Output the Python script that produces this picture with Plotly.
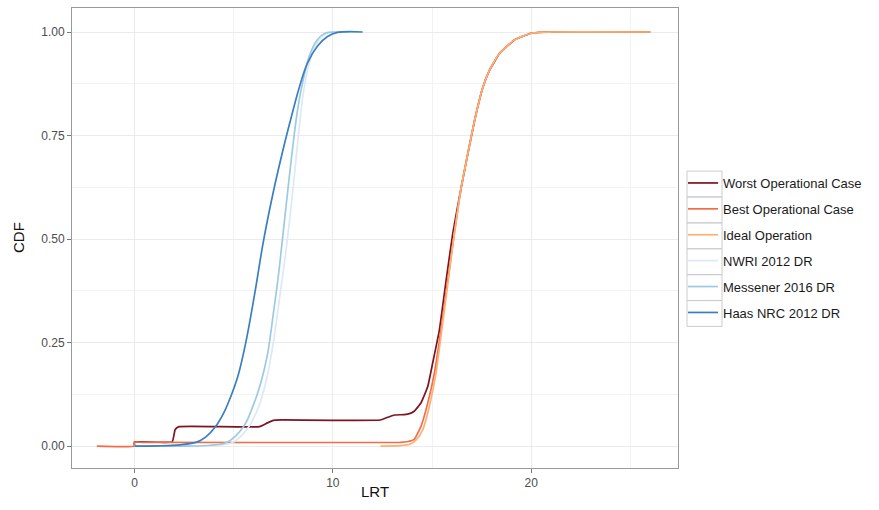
import plotly.graph_objects as go

# ---- data ----
worst_x = [0.0, 0.0, 1.9, 2.05, 2.25, 6.3, 6.7, 7.0, 7.4, 12.4, 12.8, 13.1, 13.6, 13.9, 14.1, 14.44, 14.78, 15.03, 15.37, 15.71, 16.05, 16.46, 16.8, 17.14, 17.56, 17.9, 18.4, 19.16, 20.0, 21.0, 26.0]
worst_y = [0.0, 0.010, 0.010, 0.040, 0.047, 0.047, 0.056, 0.062, 0.063, 0.063, 0.070, 0.075, 0.076, 0.079, 0.084, 0.104, 0.143, 0.200, 0.280, 0.400, 0.515, 0.622, 0.705, 0.785, 0.866, 0.908, 0.948, 0.981, 0.997, 1.0, 1.0]

best_x = [-1.9, 0.0, 0.0, 0.4, 13.4, 13.8, 14.1, 14.44, 14.78, 15.12, 15.45, 15.79, 16.13, 16.46, 16.8, 17.14, 17.56, 17.9, 18.4, 19.16, 20.0, 21.0, 26.0]
best_y = [0.0, 0.0, 0.009, 0.009, 0.009, 0.011, 0.016, 0.047, 0.103, 0.176, 0.280, 0.400, 0.515, 0.622, 0.705, 0.785, 0.866, 0.908, 0.948, 0.981, 0.997, 1.0, 1.0]

ideal_x = [12.4, 13.4, 13.9, 14.19, 14.53, 14.86, 15.2, 15.49, 15.82, 16.13, 16.46, 16.8, 17.14, 17.56, 17.9, 18.4, 19.16, 20.0, 21.0, 26.0]
ideal_y = [0.0, 0.001, 0.005, 0.0145, 0.039, 0.095, 0.176, 0.280, 0.400, 0.515, 0.622, 0.705, 0.785, 0.866, 0.908, 0.948, 0.981, 0.997, 1.0, 1.0]

nwri_x = [0.0, 3.0, 4.2, 5.0, 5.77, 6.3, 6.65, 7.0, 7.35, 7.71, 8.0, 8.22, 8.55, 8.9, 9.3, 9.7, 10.2, 10.6]
nwri_y = [0.0, 0.0, 0.002, 0.010, 0.047, 0.100, 0.160, 0.250, 0.370, 0.500, 0.625, 0.730, 0.865, 0.940, 0.980, 0.997, 1.0, 1.0]

messener_x = [0.0, 2.8, 3.8, 4.7, 5.5, 6.0, 6.35, 6.7, 7.0, 7.25, 7.46, 7.7, 7.96, 8.2, 8.42, 8.8, 9.2, 9.6, 10.2, 10.8]
messener_y = [0.0, 0.0, 0.002, 0.010, 0.047, 0.100, 0.150, 0.220, 0.320, 0.410, 0.500, 0.605, 0.715, 0.805, 0.865, 0.940, 0.980, 0.997, 1.0, 1.0]

haas_x = [0.0, 1.2, 2.3, 3.17, 3.6, 4.09, 4.5, 4.8, 5.22, 5.61, 6.05, 6.52, 7.05, 7.51, 7.88, 8.3, 8.72, 9.23, 9.73, 10.24, 11.5]
haas_y = [0.0, 0.0005, 0.003, 0.010, 0.022, 0.047, 0.080, 0.113, 0.170, 0.250, 0.365, 0.500, 0.625, 0.720, 0.790, 0.865, 0.925, 0.966, 0.989, 0.999, 1.0]

series_names = ["Worst Operational Case", "Best Operational Case", "Ideal Operation",
                "NWRI 2012 DR", "Messener 2016 DR", "Haas NRC 2012 DR"]
series_x = [worst_x, best_x, ideal_x, nwri_x, messener_x, haas_x]
series_y = [worst_y, best_y, ideal_y, nwri_y, messener_y, haas_y]
series_colors = ["#7d1421", "#f26d45", "#fdb074", "#dce9f6", "#9ecae1", "#3a7fc1"]
series_smooth = [0.35, 0.35, 0.6, 1.0, 1.0, 1.0]

x_ticks = [0, 10, 20]
y_ticks = [0.0, 0.25, 0.5, 0.75, 1.0]
y_tick_labels = ["0.00", "0.25", "0.50", "0.75", "1.00"]

FONT = "Liberation Sans, Arial, sans-serif"

# ---- figure ----
fig = go.Figure()
for name, xs, ys, col, sm in zip(series_names, series_x, series_y, series_colors, series_smooth):
    fig.add_trace(go.Scatter(
        x=xs, y=ys, mode="lines", name=name, legendgroup=name,
        line=dict(color=col, width=1.7, shape="spline", smoothing=sm),
    ))

W, H = 879, 510
L, R, T, B = 72, 201, 8, 42
pw, ph = W - L - R, H - T - B

def px_to_paper_x(px):
    return (px - L) / pw

def px_to_paper_y(py):
    return (H - B - py) / ph

# legend key boxes (ggplot style)
key_centers = [184 + 25.9 * i for i in range(6)]
shapes = []
for c in key_centers:
    shapes.append(dict(type="rect", xref="paper", yref="paper",
                       x0=px_to_paper_x(687), x1=px_to_paper_x(722),
                       y0=px_to_paper_y(c + 12.9), y1=px_to_paper_y(c - 12.9),
                       line=dict(color="#cccccc", width=1), fillcolor="rgba(0,0,0,0)",
                       layer="below"))

annotations = [
    dict(text="LRT", xref="paper", yref="paper", x=0.5, y=px_to_paper_y(492),
         xanchor="center", yanchor="middle", showarrow=False,
         font=dict(family=FONT, size=15, color="#111111")),
    dict(text="CDF", xref="paper", yref="paper", x=px_to_paper_x(18), y=0.5,
         xanchor="center", yanchor="middle", showarrow=False, textangle=-90,
         font=dict(family=FONT, size=15, color="#111111")),
]

axis_common = dict(
    showline=True, linecolor="#9a9a9a", linewidth=1, mirror=True,
    showgrid=True, gridcolor="#ebebeb", gridwidth=1,
    zeroline=False, ticks="outside", ticklen=4, tickcolor="#7a7a7a", tickwidth=1,
    tickfont=dict(family=FONT, size=12, color="#4d4d4d"),
    automargin=False,
)

fig.update_layout(
    width=W, height=H,
    margin=dict(l=L, r=R, t=T, b=B, autoexpand=False),
    paper_bgcolor="white", plot_bgcolor="white",
    showlegend=True,
    legend=dict(
        x=px_to_paper_x(683), xanchor="left",
        y=px_to_paper_y(248), yanchor="middle",
        bgcolor="rgba(0,0,0,0)", borderwidth=0,
        traceorder="grouped", tracegroupgap=6,
        font=dict(family=FONT, size=13, color="#1a1a1a"),
        itemwidth=30,
    ),
    shapes=shapes,
    annotations=annotations,
    xaxis=dict(range=[-3.15, 27.4], tickvals=x_ticks, ticktext=[str(v) for v in x_ticks],
               minor=dict(dtick=5, tick0=0, showgrid=True, gridcolor="#f3f3f3", gridwidth=1, ticks=""),
               **axis_common),
    yaxis=dict(range=[-0.053, 1.058], tickvals=y_ticks, ticktext=y_tick_labels,
               minor=dict(dtick=0.125, tick0=0, showgrid=True, gridcolor="#f3f3f3", gridwidth=1, ticks=""),
               **axis_common),
)

fig.write_html("out.html",
               config={"displayModeBar": False},
               post_script="document.body.style.margin='0';document.body.style.overflow='hidden';")
